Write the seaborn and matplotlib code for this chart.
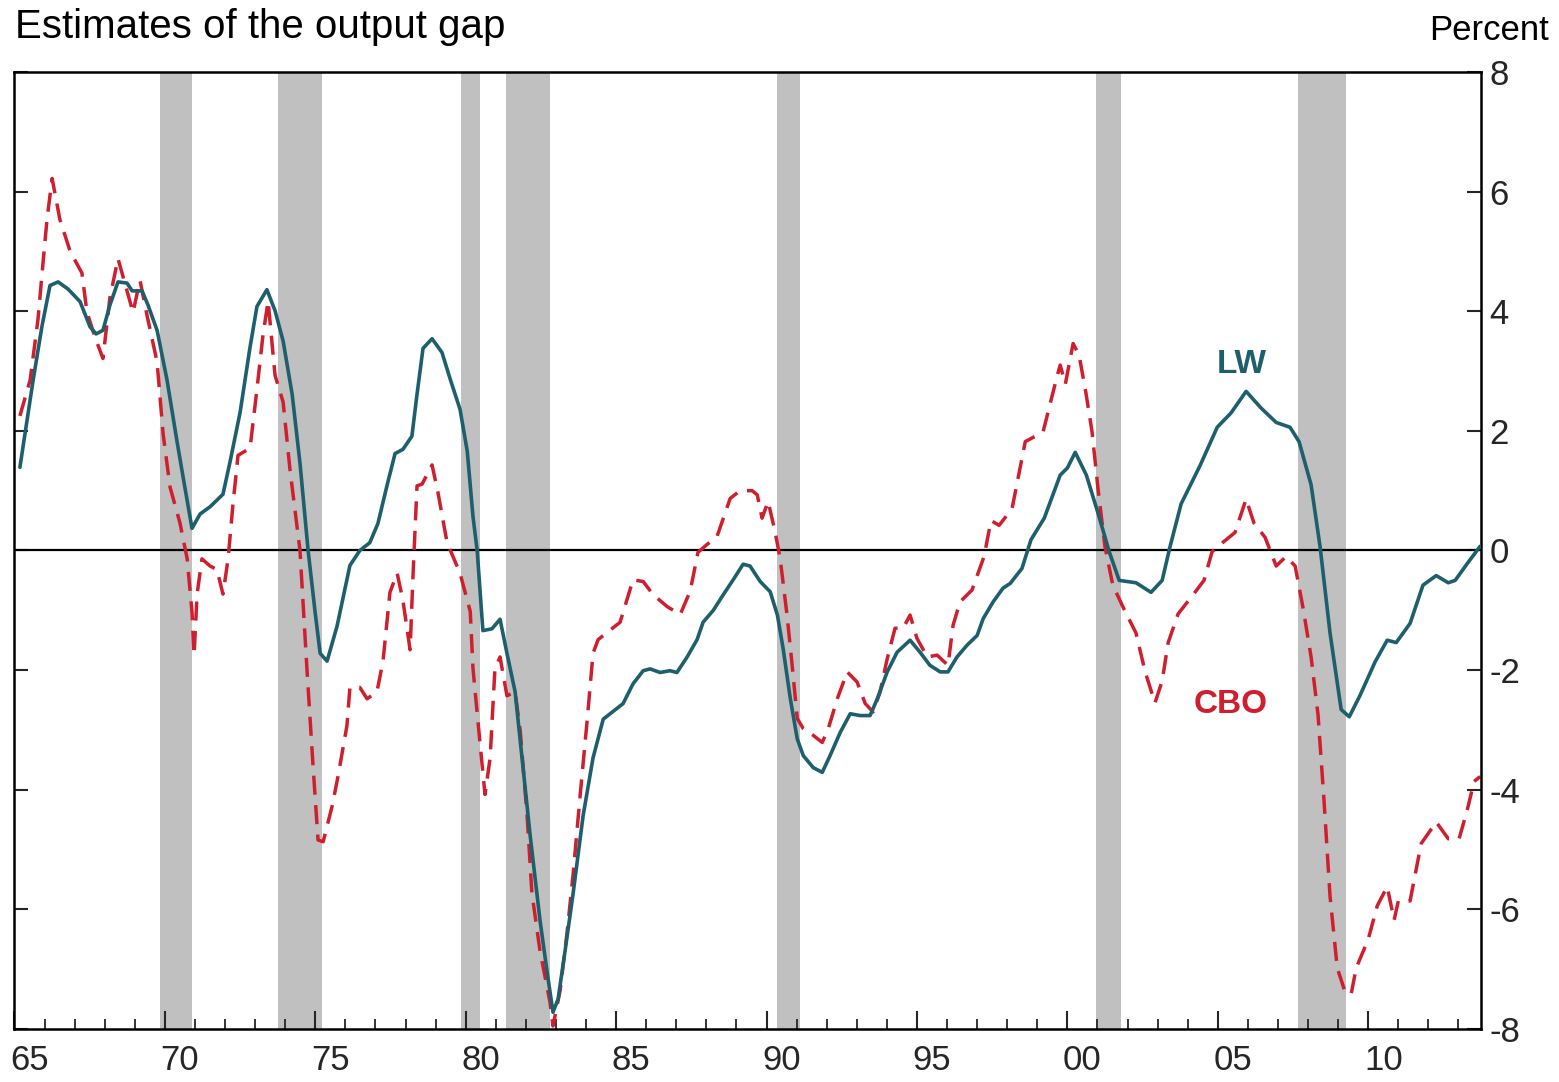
"""Estimates of the output gap: LW vs CBO"""
import matplotlib
matplotlib.use("Agg")
import matplotlib.pyplot as plt
import seaborn as sns
import pandas as pd

# LW estimate (decimal year, percent)
lw_year = [1965.18, 1965.35, 1965.62, 1965.91, 1966.18, 1966.45, 1966.78, 1967.18, 1967.51, 1967.71,
           1967.94, 1968.17, 1968.44, 1968.74, 1968.91, 1969.24, 1969.44, 1969.74, 1970.07, 1970.40,
           1970.60, 1970.90, 1971.17, 1971.50, 1971.93, 1972.16, 1972.50, 1972.83, 1973.06, 1973.39,
           1973.66, 1973.93, 1974.23, 1974.49, 1974.76, 1974.99, 1975.16, 1975.39, 1975.72, 1976.15,
           1976.48, 1976.81, 1977.08, 1977.38, 1977.65, 1977.91, 1978.21, 1978.38, 1978.58, 1978.88,
           1979.21, 1979.48, 1979.81, 1980.05, 1980.24, 1980.38, 1980.57, 1980.87, 1981.14, 1981.37,
           1981.64, 1981.87, 1982.14, 1982.47, 1982.70, 1982.90, 1983.07, 1983.30, 1983.57, 1983.90,
           1984.23, 1984.57, 1984.90, 1985.23, 1985.56, 1985.90, 1986.13, 1986.46, 1986.79, 1987.02,
           1987.36, 1987.69, 1987.89, 1988.23, 1988.56, 1988.89, 1989.22, 1989.45, 1989.79, 1990.12,
           1990.36, 1990.55, 1990.79, 1991.02, 1991.22, 1991.55, 1991.85, 1992.11, 1992.45, 1992.78,
           1993.11, 1993.44, 1993.68, 1994.01, 1994.34, 1994.77, 1995.10, 1995.43, 1995.77, 1996.03,
           1996.33, 1996.67, 1997.00, 1997.20, 1997.53, 1997.86, 1998.10, 1998.49, 1998.79, 1999.23,
           1999.76, 2000.00, 2000.26, 2000.63, 2001.02, 2001.39, 2001.72, 2002.28, 2002.78, 2003.15,
           2003.41, 2003.78, 2004.41, 2004.98, 2005.44, 2005.94, 2006.44, 2006.94, 2007.40, 2007.70,
           2008.10, 2008.40, 2008.73, 2009.10, 2009.37, 2009.73, 2010.23, 2010.63, 2010.93, 2011.39,
           2011.82, 2012.26, 2012.66, 2012.89, 2013.29, 2013.72]
lw_gap = [1.39, 1.95, 2.85, 3.74, 4.43, 4.49, 4.37, 4.16, 3.74, 3.62,
          3.68, 4.10, 4.49, 4.47, 4.34, 4.34, 4.10, 3.68, 2.85, 1.83,
          1.24, 0.37, 0.61, 0.73, 0.94, 1.47, 2.31, 3.40, 4.08, 4.36,
          4.01, 3.50, 2.61, 1.46, 0.00, -1.02, -1.72, -1.85, -1.27, -0.25,
          0.00, 0.13, 0.45, 1.08, 1.62, 1.69, 1.91, 2.61, 3.38, 3.54,
          3.31, 2.87, 2.36, 1.66, 0.57, 0.00, -1.34, -1.31, -1.15, -1.72,
          -2.36, -3.47, -4.76, -6.19, -7.03, -7.72, -7.50, -6.70, -5.73, -4.44,
          -3.47, -2.82, -2.69, -2.56, -2.23, -2.01, -1.98, -2.04, -2.01, -2.04,
          -1.78, -1.49, -1.20, -1.00, -0.74, -0.49, -0.23, -0.26, -0.52, -0.69,
          -1.08, -1.64, -2.48, -3.15, -3.43, -3.63, -3.71, -3.43, -3.04, -2.73,
          -2.76, -2.76, -2.48, -2.03, -1.70, -1.50, -1.70, -1.92, -2.03, -2.03,
          -1.78, -1.58, -1.42, -1.14, -0.86, -0.63, -0.55, -0.30, 0.18, 0.54,
          1.26, 1.38, 1.64, 1.26, 0.62, -0.02, -0.50, -0.54, -0.70, -0.50,
          0.06, 0.78, 1.42, 2.06, 2.30, 2.66, 2.38, 2.14, 2.06, 1.82,
          1.10, 0.06, -1.38, -2.66, -2.78, -2.42, -1.86, -1.50, -1.54, -1.22,
          -0.58, -0.42, -0.54, -0.50, -0.22, 0.07]

# CBO estimate (decimal year, percent)
cbo_year = [1965.18, 1965.52, 1965.78, 1965.95, 1966.08, 1966.25, 1966.51, 1966.85, 1967.24, 1967.41,
            1967.68, 1967.94, 1968.17, 1968.44, 1968.74, 1968.94, 1969.17, 1969.41, 1969.74, 1969.94,
            1970.17, 1970.50, 1970.74, 1970.90, 1970.97, 1971.07, 1971.23, 1971.50, 1971.73, 1971.93,
            1972.10, 1972.26, 1972.43, 1972.83, 1973.06, 1973.26, 1973.43, 1973.66, 1973.93, 1974.16,
            1974.49, 1974.72, 1974.92, 1975.09, 1975.26, 1975.56, 1975.76, 1976.05, 1976.15, 1976.48,
            1976.72, 1977.05, 1977.25, 1977.48, 1977.72, 1977.91, 1978.15, 1978.25, 1978.38, 1978.55,
            1978.88, 1979.08, 1979.38, 1979.81, 1980.15, 1980.24, 1980.48, 1980.64, 1980.81, 1980.97,
            1981.14, 1981.37, 1981.64, 1981.81, 1982.04, 1982.20, 1982.47, 1982.80, 1982.90, 1983.14,
            1983.37, 1983.57, 1983.80, 1984.04, 1984.23, 1984.40, 1984.80, 1985.13, 1985.56, 1985.90,
            1986.23, 1986.70, 1987.13, 1987.46, 1987.72, 1988.02, 1988.35, 1988.79, 1989.12, 1989.52,
            1989.69, 1989.85, 1990.05, 1990.28, 1990.45, 1990.68, 1990.85, 1991.02, 1991.22, 1991.55,
            1991.85, 1992.05, 1992.35, 1992.68, 1993.01, 1993.28, 1993.54, 1993.77, 1994.01, 1994.27,
            1994.54, 1994.77, 1995.00, 1995.34, 1995.67, 1996.03, 1996.20, 1996.43, 1996.83, 1997.23,
            1997.46, 1997.73, 1998.16, 1998.60, 1999.19, 1999.63, 1999.76, 1999.93, 2000.19, 2000.39,
            2000.62, 2000.82, 2001.02, 2001.25, 2001.51, 2001.88, 2002.28, 2002.58, 2002.91, 2003.15,
            2003.35, 2003.68, 2004.18, 2004.54, 2004.81, 2005.18, 2005.57, 2005.94, 2006.20, 2006.57,
            2006.94, 2007.27, 2007.57, 2007.84, 2008.10, 2008.33, 2008.53, 2008.73, 2008.97, 2009.23,
            2009.43, 2009.60, 2010.00, 2010.30, 2010.63, 2010.86, 2011.00, 2011.39, 2011.76, 2012.26,
            2012.66, 2013.02, 2013.29, 2013.52, 2013.72]
cbo_gap = [2.25, 2.85, 3.86, 4.82, 5.53, 6.22, 5.53, 5.00, 4.64, 3.98,
           3.56, 3.21, 4.22, 4.88, 4.34, 3.98, 4.52, 3.92, 3.15, 1.95,
           1.06, 0.46, -0.14, -1.03, -1.75, -0.73, -0.14, -0.26, -0.32, -0.73,
           -0.14, 0.76, 1.59, 1.71, 2.70, 3.60, 4.17, 2.93, 2.48, 1.34,
           0.00, -1.97, -3.57, -4.84, -4.87, -4.27, -3.76, -2.93, -2.29, -2.29,
           -2.48, -2.36, -1.85, -0.70, -0.38, -0.83, -1.66, -0.38, 1.08, 1.11,
           1.43, 0.96, 0.13, -0.38, -1.02, -1.97, -3.25, -4.08, -3.47, -1.98,
           -1.78, -2.43, -2.36, -3.01, -4.44, -5.73, -6.70, -7.55, -7.95, -7.35,
           -6.38, -5.41, -4.11, -2.82, -1.72, -1.49, -1.33, -1.20, -0.49, -0.52,
           -0.74, -0.94, -1.07, -0.68, -0.03, 0.10, 0.23, 0.87, 1.00, 1.00,
           0.93, 0.54, 0.82, 0.32, -0.13, -1.08, -1.92, -2.81, -2.98, -3.09,
           -3.21, -2.98, -2.48, -2.03, -2.20, -2.56, -2.70, -2.37, -1.81, -1.30,
           -1.30, -1.08, -1.47, -1.78, -1.75, -1.92, -1.25, -0.86, -0.66, -0.10,
           0.50, 0.42, 0.70, 1.82, 1.98, 2.86, 3.10, 2.78, 3.46, 3.26,
           2.62, 1.98, 1.02, 0.06, -0.58, -0.98, -1.38, -2.02, -2.55, -2.18,
           -1.54, -1.06, -0.74, -0.50, -0.02, 0.14, 0.30, 0.86, 0.46, 0.22,
           -0.26, -0.10, -0.26, -0.98, -1.78, -2.74, -4.18, -5.78, -6.98, -7.38,
           -7.42, -6.98, -6.50, -5.94, -5.62, -6.18, -5.86, -5.86, -4.90, -4.54,
           -4.82, -4.82, -4.34, -3.86, -3.78]

# NBER recessions (start, end)
rec_start = [1969.84, 1973.76, 1979.84, 1981.34, 1990.35, 2000.95, 2007.67]
rec_end = [1970.90, 1975.22, 1980.48, 1982.80, 1991.11, 2001.78, 2009.27]

year_ticks = list(range(1965, 2015, 5))
year_labels = ["65", "70", "75", "80", "85", "90", "95", "00", "05", "10"]
y_ticks = [8, 6, 4, 2, 0, -2, -4, -6, -8]

LW_COLOR = "#1d5f6c"
CBO_COLOR = "#cf1f2e"
NARROW = ["Liberation Sans Narrow", "Liberation Sans"]

sns.set_style("white")
plt.rcParams["font.family"] = ["Liberation Sans", "DejaVu Sans"]
plt.rcParams["axes.unicode_minus"] = False

fig = plt.figure(figsize=(15.59, 10.82), dpi=100)
ax = fig.add_axes([0.0093, 0.049, 0.9407, 0.8845])

for s, e in zip(rec_start, rec_end):
    ax.axvspan(s, e, color="#c0c0c0", lw=0, zorder=0)

ax.axhline(0, color="black", lw=1.6, zorder=1)

lw_df = pd.DataFrame({"year": lw_year, "gap": lw_gap})
cbo_df = pd.DataFrame({"year": cbo_year, "gap": cbo_gap})
sns.lineplot(data=cbo_df, x="year", y="gap", ax=ax, color=CBO_COLOR,
             linewidth=2.5, sort=False, zorder=2)
ax.lines[-1].set_dashes((5.5, 3))
sns.lineplot(data=lw_df, x="year", y="gap", ax=ax, color=LW_COLOR,
             linewidth=2.6, sort=False, zorder=3)

ax.set_xlim(1965, 2013.75)
ax.set_ylim(-8, 8)
ax.set_xlabel("")
ax.set_ylabel("")

# x ticks: marks at every year, longer at 5-year, labels centred on the year
ax.set_xticks(year_ticks)
ax.set_xticks(range(1965, 2014), minor=True)
ax.tick_params(axis="x", which="major", direction="in", length=13, width=1.5,
               labelbottom=False, bottom=True, top=False)
ax.tick_params(axis="x", which="minor", direction="in", length=7, width=1.3,
               bottom=True, top=False)
sec = ax.secondary_xaxis("bottom")
sec.set_xticks([y + 0.5 for y in year_ticks], labels=year_labels)
sec.tick_params(length=0, pad=11, labelsize=25)
sec.spines["bottom"].set_visible(False)
for lab in sec.get_xticklabels():
    lab.set_family(NARROW)

ax.set_yticks(y_ticks, labels=[str(v) for v in y_ticks])
ax.tick_params(axis="y", direction="in", length=10, width=1.5, left=True, right=True,
               labelleft=False, labelright=True, labelsize=25, pad=6)
for lab in ax.get_yticklabels():
    lab.set_family(NARROW)

for sp in ax.spines.values():
    sp.set_visible(True)
    sp.set_color("black")
    sp.set_linewidth(1.8)

ax.text(2005.81, 3.11, "LW", color=LW_COLOR, fontsize=24, fontweight="bold",
        ha="center", va="center")
ax.text(2005.41, -2.58, "CBO", color=CBO_COLOR, fontsize=24, fontweight="bold",
        ha="center", va="center")

fig.text(15 / 1559, 1 - 27 / 1082, "Estimates of the output gap", fontsize=29,
         ha="left", va="center", color="black")
fig.text(1549 / 1559, 1 - 30 / 1082, "Percent", fontsize=25, ha="right", va="center",
         color="black")

fig.savefig("out.png", dpi=100)
plt.close(fig)
